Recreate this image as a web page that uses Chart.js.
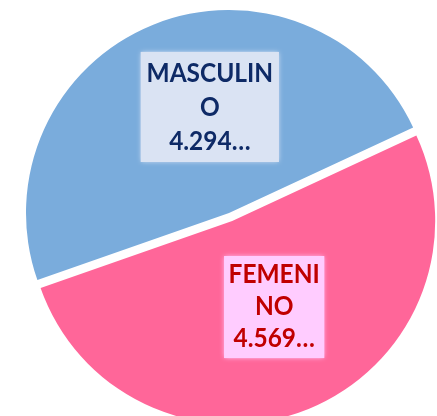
<!DOCTYPE html>
<html>
<head>
<meta charset="utf-8">
<script src="https://cdn.jsdelivr.net/npm/chart.js@4/dist/chart.umd.min.js"></script>
<style>
  html, body { margin: 0; padding: 0; background: #ffffff; overflow: hidden; width: 437px; height: 416px; }
  #wrap { position: absolute; left: 0; top: 0; width: 437px; height: 416px; }
</style>
</head>
<body>
<div id="wrap"><canvas id="c" width="437" height="416"></canvas></div>
<script>
// ---- data ----
const categories = ['MASCULINO', 'FEMENINO'];
const values = [4294, 4569];
const labelLines = [
  ['MASCULIN', 'O', '4.294…'],
  ['FEMENI', 'NO', '4.569…']
];

// ---- styles ----
const sliceColors = ['#7AACDC', '#FF6699'];
const sliceExplode = [0, 8.5];
const boxColors = ['#DAE3F3', '#FFCCFF'];
const textColors = ['#0E2A66', '#C00000'];
const boxSize = [[142, 114], [104, 106]];
const labelShift = [[19, -12], [7, 0]];
const lineGap = [34, 32];
const baseShift = [-25, -24];

// draw slices through the library's arc elements, exploding some of them
const explodePlugin = {
  id: 'explode',
  beforeDatasetDraw(chart, args) {
    const ctx = chart.ctx;
    const meta = args.meta;
    meta.data.forEach((arc, i) => {
      const mid = (arc.startAngle + arc.endAngle) / 2;
      const d = sliceExplode[i] || 0;
      ctx.save();
      ctx.translate(Math.cos(mid) * d, Math.sin(mid) * d);
      arc.draw(ctx);
      ctx.restore();
    });
    return false;
  }
};

const labelPlugin = {
  id: 'boxLabels',
  afterDatasetsDraw(chart) {
    const ctx = chart.ctx;
    const meta = chart.getDatasetMeta(0);
    meta.data.forEach((arc, i) => {
      const p = arc.getCenterPoint();
      const cx = p.x + labelShift[i][0];
      const cy = p.y + labelShift[i][1];
      const w = boxSize[i][0], h = boxSize[i][1];
      ctx.save();
      ctx.fillStyle = boxColors[i];
      ctx.shadowColor = boxColors[i];
      ctx.shadowBlur = 5;
      ctx.fillRect(cx - w / 2 + 2, cy - h / 2 + 2, w - 4, h - 4);
      ctx.shadowBlur = 0;
      ctx.fillRect(cx - w / 2 + 2, cy - h / 2 + 2, w - 4, h - 4);
      ctx.fillStyle = textColors[i];
      ctx.font = 'bold 26px Lato';
      ctx.textAlign = 'center';
      ctx.textBaseline = 'alphabetic';
      labelLines[i].forEach((t, k) => {
        ctx.save();
        ctx.translate(cx, cy + baseShift[i] + k * lineGap[i]);
        ctx.scale(0.94, 1);
        ctx.fillText(t, 0, 0);
        ctx.restore();
      });
      ctx.restore();
    });
  }
};

new Chart(document.getElementById('c'), {
  type: 'pie',
  data: {
    labels: categories,
    datasets: [{
      data: values,
      backgroundColor: sliceColors,
      borderWidth: 0
    }]
  },
  options: {
    responsive: false,
    animation: false,
    rotation: 250.7,
    layout: { padding: { left: 26, top: 10, right: 5, bottom: 0 } },
    plugins: {
      legend: { display: false },
      tooltip: { enabled: false }
    }
  },
  plugins: [explodePlugin, labelPlugin]
});
</script>
</body>
</html>
